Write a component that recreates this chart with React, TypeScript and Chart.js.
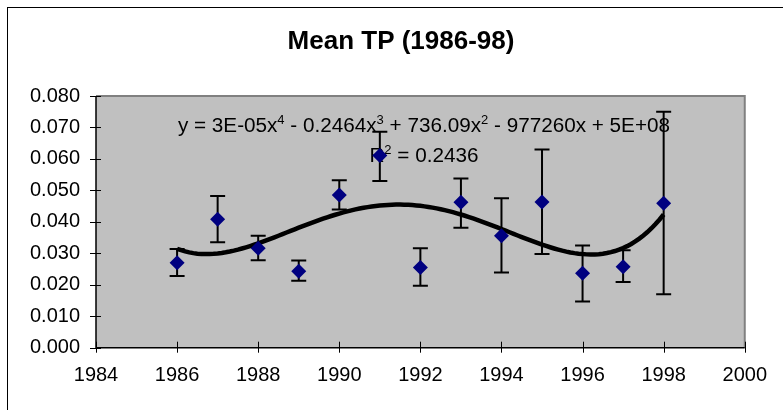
import { useEffect, useRef } from 'react';
import { Chart, registerables } from 'chart.js';

Chart.register(...registerables);

// ---- data ----
const years = [1986, 1987, 1988, 1989, 1990, 1991, 1992, 1993, 1994, 1995, 1996, 1997, 1998];
const meanTP = [0.0270, 0.0408, 0.0316, 0.0243, 0.0485, 0.0611, 0.0255, 0.0462, 0.0356, 0.0463, 0.0237, 0.0257, 0.0459];
const errUpper = [0.0314, 0.0482, 0.0356, 0.0277, 0.0532, 0.0686, 0.0316, 0.0538, 0.0475, 0.0630, 0.0325, 0.0310, 0.0750];
const errLower = [0.0228, 0.0335, 0.0278, 0.0213, 0.0439, 0.0530, 0.0197, 0.0381, 0.0239, 0.0298, 0.0147, 0.0209, 0.0170];

const xMin = 1984;
const xMax = 2000;
const xStep = 2;
const yMin = 0;
const yMax = 0.08;
const yStep = 0.01;

const chartTitle = 'Mean TP (1986-98)';
const equationParts = [
  { t: 'y = 3E-05x', sup: false },
  { t: '4', sup: true },
  { t: ' - 0.2464x', sup: false },
  { t: '3', sup: true },
  { t: ' + 736.09x', sup: false },
  { t: '2', sup: true },
  { t: ' - 977260x + 5E+08', sup: false },
];
const rSquaredParts = [
  { t: 'R', sup: false },
  { t: '2', sup: true },
  { t: ' = 0.2436', sup: false },
];
const trendDegree = 4;

const FONT = '"Liberation Sans", Arial, Helvetica, sans-serif';

// least-squares polynomial trendline (same as the spreadsheet's polynomial trendline)
function polyFit(xs: number[], ys: number[], deg: number, x0: number, s: number) {
  const n = deg + 1;
  const A: number[][] = Array.from({ length: n }, () => new Array(n).fill(0));
  const b: number[] = new Array(n).fill(0);
  for (let i = 0; i < xs.length; i++) {
    const t = (xs[i] - x0) / s;
    const p: number[] = [];
    for (let k = 0; k < n; k++) p.push(Math.pow(t, k));
    for (let r = 0; r < n; r++) {
      b[r] += p[r] * ys[i];
      for (let c = 0; c < n; c++) A[r][c] += p[r] * p[c];
    }
  }
  for (let col = 0; col < n; col++) {
    let piv = col;
    for (let r = col + 1; r < n; r++) if (Math.abs(A[r][col]) > Math.abs(A[piv][col])) piv = r;
    [A[col], A[piv]] = [A[piv], A[col]];
    [b[col], b[piv]] = [b[piv], b[col]];
    for (let r = col + 1; r < n; r++) {
      const f = A[r][col] / A[col][col];
      for (let c = col; c < n; c++) A[r][c] -= f * A[col][c];
      b[r] -= f * b[col];
    }
  }
  const coef = new Array(n).fill(0);
  for (let r = n - 1; r >= 0; r--) {
    let v = b[r];
    for (let c = r + 1; c < n; c++) v -= A[r][c] * coef[c];
    coef[r] = v / A[r][r];
  }
  return (x: number) => {
    const t = (x - x0) / s;
    let v = 0;
    for (let k = n - 1; k >= 0; k--) v = v * t + coef[k];
    return v;
  };
}

function drawRich(ctx: CanvasRenderingContext2D, parts: { t: string; sup: boolean }[], cx: number, baseline: number) {
  const big = `20.7px ${FONT}`;
  const small = `13px ${FONT}`;
  let w = 0;
  for (const p of parts) {
    ctx.font = p.sup ? small : big;
    w += ctx.measureText(p.t).width;
  }
  let x = cx - w / 2;
  ctx.fillStyle = '#000';
  ctx.textAlign = 'left';
  ctx.textBaseline = 'alphabetic';
  for (const p of parts) {
    ctx.font = p.sup ? small : big;
    ctx.fillText(p.t, x, p.sup ? baseline - 8.5 : baseline);
    x += ctx.measureText(p.t).width;
  }
}

const decorPlugin = {
  id: 'decor',
  beforeDraw(chart: any) {
    const { ctx, chartArea: a, width, height } = chart;
    ctx.save();
    ctx.fillStyle = '#fff';
    ctx.fillRect(0, 0, width, height);
    // outer chart frame
    ctx.strokeStyle = '#000';
    ctx.lineWidth = 1;
    ctx.strokeRect(7.5, 7.5, width + 50, height + 50);
    // title
    ctx.font = `bold 26px ${FONT}`;
    ctx.fillStyle = '#000';
    ctx.textAlign = 'center';
    ctx.textBaseline = 'alphabetic';
    ctx.fillText(chartTitle, 401, 48.5);
    // plot area
    ctx.fillStyle = '#C0C0C0';
    ctx.fillRect(a.left, a.top, a.right - a.left, a.bottom - a.top);
    ctx.restore();
  },
  beforeDatasetsDraw(chart: any) {
    const { ctx, chartArea: a, scales } = chart;
    const xs = scales.x;
    const ys = scales.y;
    ctx.save();
    // gray frame top/right
    ctx.strokeStyle = '#808080';
    ctx.lineWidth = 2;
    ctx.beginPath();
    ctx.moveTo(a.left, a.top);
    ctx.lineTo(a.right, a.top);
    ctx.lineTo(a.right, a.bottom);
    ctx.stroke();
    // axes
    ctx.strokeStyle = '#000';
    ctx.lineWidth = 1.5;
    ctx.beginPath();
    ctx.moveTo(a.left, a.top);
    ctx.lineTo(a.left, a.bottom);
    ctx.lineTo(a.right, a.bottom);
    ctx.stroke();
    ctx.lineWidth = 1;
    ctx.beginPath();
    for (const t of ys.ticks) {
      const y = Math.round(ys.getPixelForValue(t.value)) + 0.5;
      ctx.moveTo(a.left - 6, y);
      ctx.lineTo(a.left + 5, y);
    }
    for (const t of xs.ticks) {
      const x = Math.round(xs.getPixelForValue(t.value)) + 0.5;
      ctx.moveTo(x, a.bottom - 6);
      ctx.lineTo(x, a.bottom + 5);
    }
    ctx.stroke();
    // trendline label
    const cx = a.left + (a.right - a.left) * 0.5055;
    drawRich(ctx, equationParts, cx, a.top + 36);
    drawRich(ctx, rSquaredParts, cx, a.top + 66);
    // error bars
    ctx.strokeStyle = '#000';
    ctx.lineWidth = 2;
    ctx.beginPath();
    for (let i = 0; i < years.length; i++) {
      const x = xs.getPixelForValue(years[i]);
      const yt = ys.getPixelForValue(errUpper[i]);
      const yb = ys.getPixelForValue(errLower[i]);
      ctx.moveTo(x, yt);
      ctx.lineTo(x, yb);
      ctx.moveTo(x - 7.5, yt);
      ctx.lineTo(x + 7.5, yt);
      ctx.moveTo(x - 7.5, yb);
      ctx.lineTo(x + 7.5, yb);
    }
    ctx.stroke();
    ctx.restore();
  },
};

export default function App() {
  const ref = useRef<HTMLCanvasElement | null>(null);
  useEffect(() => {
    if (!ref.current) return;
    const fit = polyFit(years, meanTP, trendDegree, 1992, 6);
    const trend: { x: number; y: number }[] = [];
    const first = years[0];
    const last = years[years.length - 1];
    const samples = 120;
    for (let i = 0; i <= samples; i++) {
      const x = first + ((last - first) * i) / samples;
      trend.push({ x, y: fit(x) });
    }
    const chart = new Chart(ref.current, {
      type: 'scatter',
      data: {
        datasets: [
          {
            label: 'Mean TP',
            data: years.map((y, i) => ({ x: y, y: meanTP[i] })),
            pointStyle: 'rectRot',
            pointRadius: 7.5,
            pointHoverRadius: 7.5,
            backgroundColor: '#000080',
            borderColor: '#000080',
            borderWidth: 0,
          },
          {
            type: 'line',
            label: 'Poly. (Mean TP)',
            data: trend,
            borderColor: '#000',
            borderWidth: 4.5,
            pointRadius: 0,
            tension: 0,
            fill: false,
          } as any,
        ],
      },
      options: {
        responsive: false,
        animation: false,
        devicePixelRatio: 1,
        layout: { padding: { left: 0, top: 96, right: 34.5, bottom: 0 } },
        plugins: { legend: { display: false }, tooltip: { enabled: false }, title: { display: false } },
        scales: {
          x: {
            type: 'linear',
            min: xMin,
            max: xMax,
            grid: { display: false, drawTicks: false },
            border: { display: false },
            ticks: {
              stepSize: xStep,
              color: '#000',
              font: { family: FONT, size: 20 },
              padding: 16,
              maxRotation: 0,
              callback: (v: any) => String(v),
            },
            afterFit: (s: any) => { s.height = 62.3; },
          },
          y: {
            type: 'linear',
            min: yMin,
            max: yMax,
            grid: { display: false, drawTicks: false },
            border: { display: false },
            ticks: {
              stepSize: yStep,
              color: '#000',
              font: { family: FONT, size: 20 },
              padding: 16,
              callback: (v: any) => Number(v).toFixed(3),
            },
            afterFit: (s: any) => { s.width = 96; },
          },
        },
      },
      plugins: [decorPlugin],
    });
    return () => chart.destroy();
  }, []);
  return (
    <div style={{ position: 'absolute', left: 0, top: 0 }}>
      <canvas ref={ref} width={783} height={410} style={{ display: 'block' }} />
    </div>
  );
}
